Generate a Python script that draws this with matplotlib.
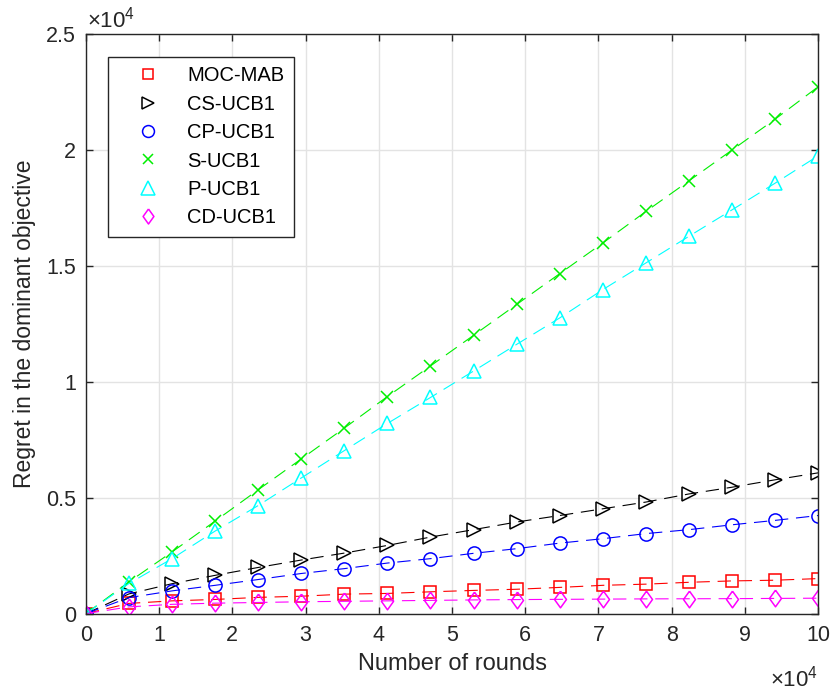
import numpy as np
import matplotlib
matplotlib.use('Agg')
import matplotlib.pyplot as plt
from matplotlib.lines import Line2D
from matplotlib.ticker import FuncFormatter, MultipleLocator

plt.rcParams['font.family'] = ['Liberation Sans', 'DejaVu Sans']
plt.rcParams['mathtext.fontset'] = 'custom'
plt.rcParams['mathtext.rm'] = 'Liberation Sans'
plt.rcParams['mathtext.it'] = 'Liberation Sans'

# 18 evaluation points over 1e5 rounds
rounds = np.linspace(0, 100000, 18)

moc_mab = [0, 440, 550, 610, 700, 750, 840, 870, 940, 1000, 1050, 1130, 1220, 1270, 1350, 1410, 1440, 1510]
cs_ucb1 = [0, 850, 1290, 1650, 1990, 2310, 2610, 2940, 3300, 3620, 3950, 4230, 4520, 4810, 5160, 5450, 5770, 6070]
cp_ucb1 = [0, 690, 980, 1220, 1470, 1730, 1940, 2180, 2370, 2600, 2800, 3040, 3230, 3450, 3620, 3830, 4020, 4230]
s_ucb1 = [0, 1370, 2660, 3990, 5340, 6670, 8000, 9360, 10680, 12000, 13330, 14660, 15980, 17340, 18660, 19990, 21320, 22720]
p_ucb1 = [0, 1300, 2370, 3560, 4660, 5850, 7030, 8200, 9320, 10460, 11610, 12750, 13970, 15120, 16270, 17410, 18560, 19740]
cd_ucb1 = [0, 290, 400, 450, 480, 510, 530, 550, 570, 590, 605, 615, 625, 635, 640, 645, 655, 665]

names = ['MOC-MAB', 'CS-UCB1', 'CP-UCB1', 'S-UCB1', 'P-UCB1', 'CD-UCB1']
series = [moc_mab, cs_ucb1, cp_ucb1, s_ucb1, p_ucb1, cd_ucb1]
colors = ['#ff0000', '#000000', '#0000ff', '#00ee00', '#00ffff', '#ff00ff']
diamond = [(0, 1), (0.72, 0), (0, -1), (-0.72, 0), (0, 1)]
markers = ['s', '>', 'o', 'x', '^', diamond]
msizes = [8.5, 10, 9.5, 8.5, 10.5, 12]

fig = plt.figure(figsize=(8.34, 6.91), dpi=100)
ax = fig.add_axes([0.103, 0.112, 0.878, 0.839])

for y, c, m, ms in zip(series, colors, markers, msizes):
    ax.plot(rounds, y, color=c, lw=0.8, dashes=(12, 7), marker=m, ms=ms,
            mfc='none', mec=c, mew=1.1)

ax.set_xlim(0, 100000)
ax.set_ylim(0, 25000)
ax.xaxis.set_major_locator(MultipleLocator(10000))
ax.yaxis.set_major_locator(MultipleLocator(5000))
fmt = FuncFormatter(lambda v, p: '%g' % (v / 1e4))
ax.xaxis.set_major_formatter(fmt)
ax.yaxis.set_major_formatter(fmt)

ax.grid(True, color='#e3e3e3', lw=1.0)
ax.set_axisbelow(True)
for s in ax.spines.values():
    s.set_color('#262626')
    s.set_linewidth(1.0)
ax.tick_params(direction='in', length=5, width=1.0, colors='#262626',
               labelsize=15.5, top=True, right=True)
ax.tick_params(axis='x', pad=8)
ax.tick_params(axis='y', pad=7)

ax.set_xlabel('Number of rounds', fontsize=17, color='#262626', labelpad=5)
ax.set_ylabel('Regret in the dominant objective', fontsize=16.5, color='#262626', labelpad=7)

ax.text(0.002, 1.003, r'$\times10^{4}$', transform=ax.transAxes, ha='left', va='bottom',
        fontsize=16, color='#262626')
ax.text(1.0, -0.09, r'$\times10^{4}$', transform=ax.transAxes, ha='right', va='top',
        fontsize=16, color='#262626')

handles = [Line2D([], [], ls='none', marker=m, color=c, mfc='none', mec=c, mew=1.1,
                  ms=ms * 0.9) for c, m, ms in zip(colors, markers, msizes)]
leg = ax.legend(handles, names, loc='upper left', bbox_to_anchor=(0.03, 0.96),
                borderaxespad=0, fontsize=14.5, fancybox=False, framealpha=1,
                edgecolor='#262626', handlelength=3.1, handletextpad=0.4,
                labelspacing=0.47, borderpad=0.45)
leg.get_frame().set_linewidth(1.0)

fig.savefig('out.png', dpi=100)
